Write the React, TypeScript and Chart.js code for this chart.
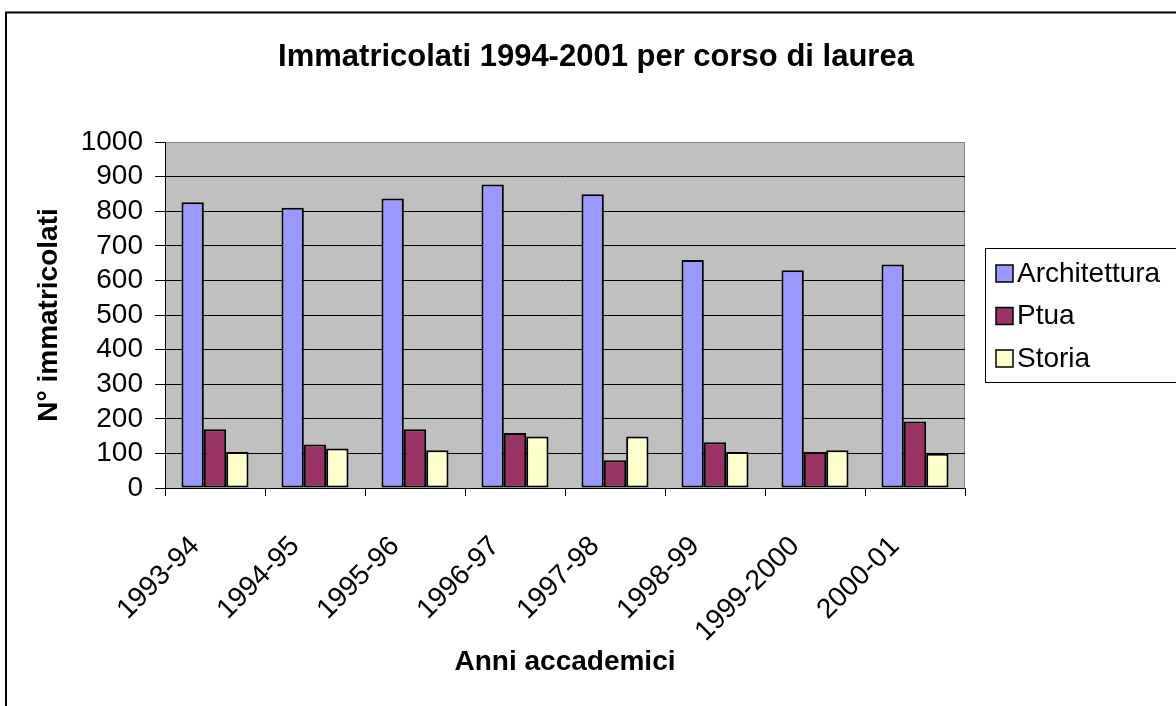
import React, { useEffect, useRef } from "react";
import { Chart, registerables } from "chart.js";

Chart.register(...registerables);

const categories = ["1993-94", "1994-95", "1995-96", "1996-97", "1997-98", "1998-99", "1999-2000", "2000-01"];
const architettura = [826, 810, 837, 877, 849, 659, 629, 646];
const ptua = [170, 126, 170, 159, 80, 132, 104, 192];
const storia = [104, 114, 109, 149, 149, 104, 109, 99];
const seriesNames = ["Architettura", "Ptua", "Storia"];
const seriesColors = ["#9999FF", "#993366", "#FFFFCC"];
const titleText = "Immatricolati 1994-2001 per corso di laurea";
const yTitle = "N° immatricolati";
const xTitle = "Anni accademici";

const FONT = "'Liberation Sans', Arial, sans-serif";

export default function App() {
  const ref = useRef<HTMLCanvasElement | null>(null);
  useEffect(() => {
    if (!ref.current) return;
    const decor = {
      id: "decor",
      beforeDraw(chart: any) {
        const { ctx, chartArea } = chart;
        ctx.save();
        ctx.fillStyle = "#ffffff";
        ctx.fillRect(0, 0, chart.width, chart.height);
        ctx.fillStyle = "#C0C0C0";
        ctx.fillRect(chartArea.left, chartArea.top, chartArea.right - chartArea.left, chartArea.bottom - chartArea.top);
        ctx.strokeStyle = "#808080";
        ctx.lineWidth = 1;
        ctx.beginPath();
        ctx.moveTo(chartArea.left, chartArea.top + 0.5);
        ctx.lineTo(chartArea.right - 0.5, chartArea.top + 0.5);
        ctx.lineTo(chartArea.right - 0.5, chartArea.bottom);
        ctx.stroke();
        ctx.restore();
      },
      afterDraw(chart: any) {
        const { ctx } = chart;
        ctx.save();
        // outer border
        ctx.strokeStyle = "#000";
        ctx.lineWidth = 2;
        ctx.strokeRect(6, 12.5, 3000, 3000);
        // title
        ctx.fillStyle = "#000";
        ctx.font = `bold 31px ${FONT}`;
        ctx.textAlign = "center";
        ctx.textBaseline = "middle";
        ctx.fillText(titleText, 596, 57);
        // legend
        ctx.lineWidth = 1;
        ctx.strokeRect(985.5, 248.5, 400, 134);
        const ds = chart.data.datasets;
        ctx.font = `28px ${FONT}`;
        ctx.textAlign = "left";
        ds.forEach((d: any, i: number) => {
          const cy = 273 + i * 42.5;
          ctx.fillStyle = d.backgroundColor;
          ctx.fillRect(996, cy - 8, 17, 17);
          ctx.strokeStyle = "#000";
          ctx.lineWidth = 1.5;
          ctx.strokeRect(996, cy - 8, 17, 17);
          ctx.fillStyle = "#000";
          ctx.fillText(d.label, 1017, cy + 1);
        });
        ctx.restore();
      },
    };
    const chart = new Chart(ref.current, {
      type: "bar",
      data: {
        labels: categories,
        datasets: [architettura, ptua, storia].map((vals, i) => ({
          label: seriesNames[i],
          data: vals,
          backgroundColor: seriesColors[i],
          borderColor: "#000",
          borderWidth: 2,
          borderSkipped: false,
          categoryPercentage: 0.67,
          barPercentage: 1,
        })),
      },
      options: {
        responsive: false,
        animation: false,
        layout: { padding: { left: 20, right: 211, top: 142, bottom: 0 } },
        plugins: { legend: { display: false }, title: { display: false }, tooltip: { enabled: false } },
        scales: {
          x: {
            afterFit: (s: any) => { s.height = 218; },
            grid: { drawOnChartArea: false, drawTicks: true, tickLength: 8, color: "#000", offset: true },
            border: { color: "#000", width: 1 },
            ticks: {
              color: "#000",
              font: { family: FONT, size: 28 },
              minRotation: 45,
              maxRotation: 45,
              padding: 34,
              labelOffset: -20,
              autoSkip: false,
            },
            title: { display: true, text: xTitle, color: "#000", font: { family: FONT, size: 28, weight: "bold" }, padding: { top: 0, bottom: 27 } },
          },
          y: {
            min: 0,
            max: 1000,
            afterFit: (s: any) => { s.width = 145; },
            ticks: {
              stepSize: 100,
              autoSkip: false,
              color: "#000",
              font: { family: FONT, size: 28 },
              padding: 12,
              callback: (v: any) => String(v),
            },
            grid: {
              color: (c: any) => (c.tick && c.tick.value === 1000 ? "#808080" : "#000"),
              tickColor: "#000",
              tickLength: 10,
              lineWidth: 1,
            },
            border: { color: "#000", width: 1 },
            title: { display: true, text: yTitle, color: "#000", font: { family: FONT, size: 28, weight: "bold" }, padding: { top: 12, bottom: 0 } },
          },
        },
      },
      plugins: [decor],
    });
    return () => chart.destroy();
  }, []);
  return (
    <div style={{ position: "fixed", left: 0, top: 0, width: 1176, height: 706, overflow: "hidden", background: "#fff" }}>
      <canvas ref={ref} width={1176} height={706} style={{ display: "block" }} />
    </div>
  );
}
